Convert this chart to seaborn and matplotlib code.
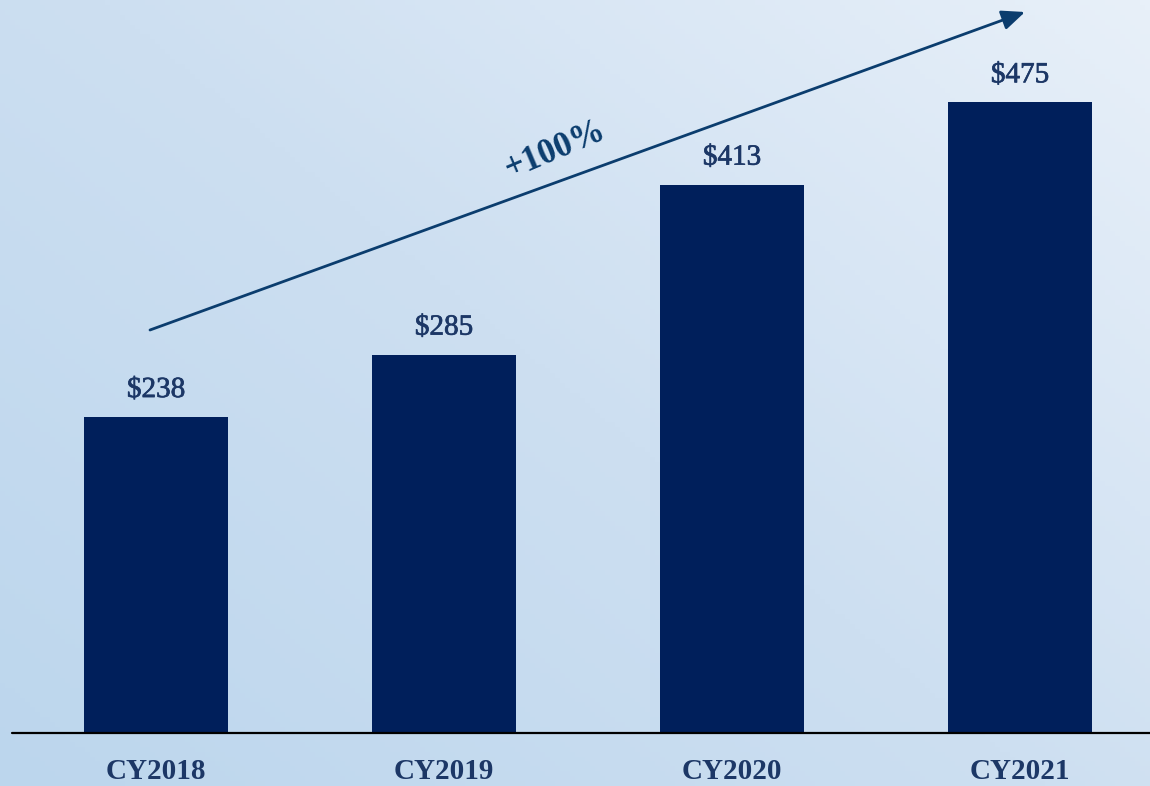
import numpy as np
import pandas as pd
import matplotlib
matplotlib.use("Agg")
import matplotlib.pyplot as plt
import matplotlib.patheffects as pe
from matplotlib.colors import LinearSegmentedColormap
import seaborn as sns

# ---- data ----
categories = ["CY2018", "CY2019", "CY2020", "CY2021"]
values = [238, 285, 413, 475]
value_labels = ["$238", "$285", "$413", "$475"]
growth_label = "+100%"

sns.set_theme(style="white")
plt.rcParams["font.family"] = ["Liberation Serif", "DejaVu Serif"]

BAR = "#001f5b"
TEXT = "#1c3766"
ARROW = "#0b3d6e"

fig = plt.figure(figsize=(11.5, 7.86), dpi=100)

# gradient background
bg = fig.add_axes([0, 0, 1, 1], zorder=0)
bg.set_axis_off()
nx, ny = 230, 160
xx, yy = np.meshgrid(np.linspace(0, 1, nx), np.linspace(0, 1, ny))
grad = (xx * 0.55 + (1 - yy) * 0.45)
cmap = LinearSegmentedColormap.from_list("bgc", ["#bcd6ed", "#cddff1", "#e8f0f9"])
bg.imshow(grad, cmap=cmap, aspect="auto", extent=[0, 1, 0, 1], origin="upper")
bg.set_xlim(0, 1)
bg.set_ylim(0, 1)

ax = fig.add_axes([0, (786 - 733) / 786, 1, 733 / 786], zorder=1)
ax.patch.set_alpha(0)

df = pd.DataFrame({"year": categories, "value": values})
sns.barplot(data=df, x="year", y="value", color=BAR, saturation=1, width=0.5,
            edgecolor=BAR, linewidth=0, ax=ax)

ax.set_xlim(-156 / 288, (1150 - 156) / 288)
ax.set_ylim(0, 733 / 1.328)
for s in ax.spines.values():
    s.set_visible(False)
ax.set_yticks([])
ax.set_xlabel("")
ax.set_ylabel("")
ax.tick_params(axis="x", length=0, pad=18)
for lbl in ax.get_xticklabels():
    lbl.set_fontsize(21)
    lbl.set_fontweight("bold")
    lbl.set_color(TEXT)

ax.axhline(0, xmin=12 / 1150, xmax=1, color="black", lw=1.6, clip_on=False, zorder=3)

texts = ax.bar_label(ax.containers[0], labels=value_labels, padding=10, fontsize=21,
                     color=TEXT, fontweight="normal")
for t in texts:
    t.set_path_effects([pe.withStroke(linewidth=0.5, foreground=TEXT)])

# growth arrow
ax.annotate("", xy=(1025 / 1150, 1 - 12 / 786), xycoords="figure fraction",
            xytext=(150 / 1150, 1 - 330 / 786), textcoords="figure fraction",
            arrowprops=dict(arrowstyle="-|>,head_length=0.7,head_width=0.3", color=ARROW,
                            lw=2, mutation_scale=20, shrinkA=0, shrinkB=0))
fig.text(555 / 1150, 1 - 150 / 786, growth_label, rotation=23, ha="center", va="center",
         fontsize=25, fontweight="bold", color=ARROW, rotation_mode="anchor")

fig.savefig("out.png", dpi=100)
